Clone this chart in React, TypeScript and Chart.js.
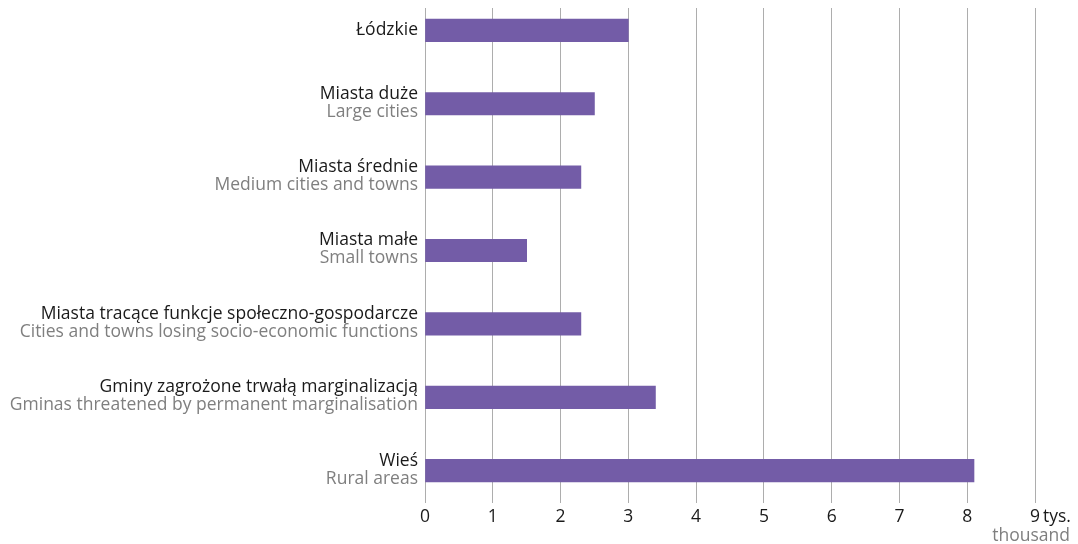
import React, { useEffect, useRef } from "react";
import { Chart, registerables } from "chart.js";

Chart.register(...registerables);

const categoriesPL = [
  "Łódzkie",
  "Miasta duże",
  "Miasta średnie",
  "Miasta małe",
  "Miasta tracące funkcje społeczno-gospodarcze",
  "Gminy zagrożone trwałą marginalizacją",
  "Wieś",
];
const categoriesEN = [
  "",
  "Large cities",
  "Medium cities and towns",
  "Small towns",
  "Cities and towns losing socio-economic functions",
  "Gminas threatened by permanent marginalisation",
  "Rural areas",
];
const values = [3.0, 2.5, 2.3, 1.5, 2.3, 3.4, 8.1];
const xMin = 0;
const xMax = 9;
const unitPL = "tys.";
const unitEN = "thousand";

const FONT = "'Open Sans'";
const LABEL_SIZE = 17.5;
const BAR = "#735ca7";
const DARK = "#1a1a1a";
const GRAY = "#7f7f7f";

export default function App() {
  const ref = useRef<HTMLCanvasElement>(null);
  useEffect(() => {
    if (!ref.current) return;
    const labelPlugin = {
      id: "labels",
      afterDraw(chart: any) {
        const ctx = chart.ctx;
        const ys = chart.scales.y;
        const xs = chart.scales.x;
        const left = chart.chartArea.left;
        ctx.save();
        ctx.font = `${LABEL_SIZE}px ${FONT}`;
        ctx.textAlign = "right";
        ctx.textBaseline = "middle";
        categoriesPL.forEach((pl, i) => {
          const y = ys.getPixelForValue(i);
          const en = categoriesEN[i];
          if (en) {
            ctx.fillStyle = DARK;
            ctx.fillText(pl, left - 7, y - 10);
            ctx.fillStyle = GRAY;
            ctx.fillText(en, left - 7, y + 8);
          } else {
            ctx.fillStyle = DARK;
            ctx.fillText(pl, left - 7, y);
          }
        });
        const x9 = xs.getPixelForValue(xMax);
        const ty = chart.chartArea.bottom + 14;
        ctx.textAlign = "left";
        ctx.fillStyle = DARK;
        ctx.fillText(unitPL, x9 + 8, ty);
        ctx.textAlign = "right";
        ctx.fillStyle = GRAY;
        ctx.fillText(unitEN, chart.width, ty + 19);
        ctx.restore();
      },
    };
    const chart = new Chart(ref.current, {
      type: "bar",
      data: {
        datasets: [
          {
            data: values.map((v, i) => ({ x: v, y: i })),
            backgroundColor: BAR,
            borderWidth: 0,
            barThickness: 22.5,
          },
        ],
      },
      options: {
        indexAxis: "y",
        animation: false,
        responsive: true,
        maintainAspectRatio: false,
        layout: { padding: { right: 35, top: 0, bottom: 0, left: 0 } },
        plugins: { legend: { display: false }, tooltip: { enabled: false } },
        scales: {
          x: {
            type: "linear",
            min: xMin,
            max: xMax,
            ticks: { stepSize: 1, color: DARK, font: { family: FONT, size: LABEL_SIZE }, padding: 4 },
            grid: { color: "#adadad", drawTicks: false, lineWidth: 1 },
            border: { display: false },
            afterFit: (s: any) => {
              s.height = 41;
            },
          },
          y: {
            type: "linear",
            reverse: true,
            offset: false,
            min: -0.304,
            max: 6.44,
            ticks: { display: false },
            grid: { display: false },
            border: { display: false },
            afterFit: (s: any) => {
              s.width = 417;
            },
          },
        },
      },
      plugins: [labelPlugin],
    });
    return () => chart.destroy();
  }, []);
  return (
    <div style={{ position: "absolute", top: 8, left: 8, right: 8, height: 536 }}>
      <canvas ref={ref} />
    </div>
  );
}
